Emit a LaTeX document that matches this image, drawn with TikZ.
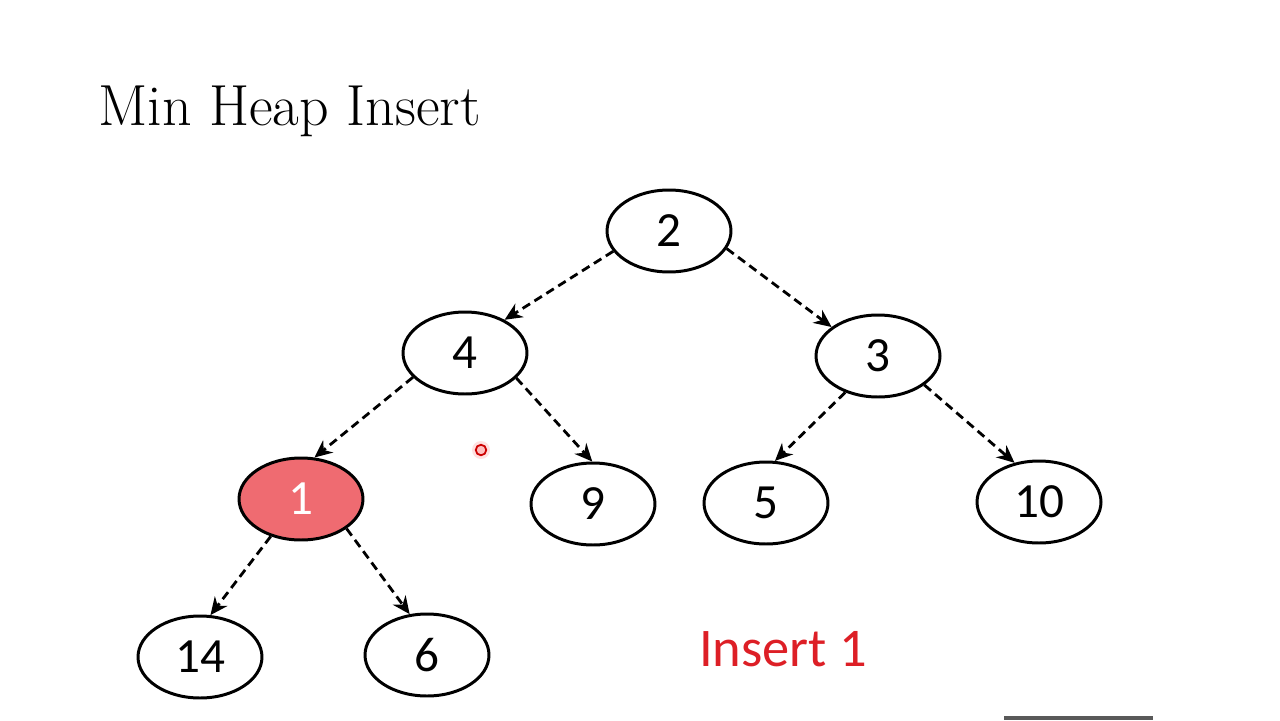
\documentclass[tikz,border=0pt]{standalone}
\usepackage{fontspec}
\usepackage{xcolor}
\usetikzlibrary{shapes.geometric, arrows.meta, positioning}
\newfontfamily\calibri{Carlito}
\definecolor{clrNew}{HTML}{EF6B71}
\definecolor{clrNote}{HTML}{DD1F26}

\begin{document}
\begin{tikzpicture}[
    x=0.02cm, y=-0.02cm,
    key/.style={ellipse, draw=black, line width=1.7pt, fill=white, minimum width=2.48cm, minimum height=1.64cm, inner sep=0pt, font=\calibri\fontsize{28}{30}\selectfont},
    newkey/.style={key, fill=clrNew, text=white},
    edge/.style={-{Stealth[length=10pt, width=9pt]}, line width=1.6pt, dash pattern=on 5pt off 3pt},
    note/.style={font=\calibri\fontsize{31}{34}\selectfont, text=clrNote},
]
\useasboundingbox (0,0) rectangle (1280,720);

% title
\node[anchor=base west, inner sep=0pt, font=\fontsize{33}{36}\selectfont] (title) at (98,125) {Min Heap Insert};

% heap
\node[key] (k2) at (669,231) {2};
\node[key] (k4) at (465,353) {4};
\node[key] (k3) at (878,356) {3};
\node[newkey] (k1) at (301,499) {1};
\node[key] (k9) at (593,504) {9};
\node[key] (k5) at (766,503) {5};
\node[key] (k10) at (1039,502) {10};
\node[key] (k14) at (200,657) {14};
\node[key] (k6) at (427,655) {6};

\draw[edge] (k2.200) -- (k4.40);
\draw[edge] (k2.343) -- (k3.148);
\draw[edge] (k4.205) -- (k1.72);
\draw[edge] (k4.334) -- (k9.91);
\draw[edge] (k3.228) -- (k5.78);
\draw[edge] (k3.328) -- (k10.122);
\draw[edge] (k1.231) -- (k14.76);
\draw[edge] (k1.327) -- (k6.113);

\node[note] (step) at (783,649) {Insert 1};

% pointer dot and player bar
\fill[red!12] (481,450) circle (9);
\node[circle, draw=red!80!black, line width=1pt, fill=red!25, inner sep=0pt, minimum size=6pt] (dot) at (481,450) {};
\fill[black!65] (1004,716) rectangle (1153,720);
\end{tikzpicture}
\end{document}
